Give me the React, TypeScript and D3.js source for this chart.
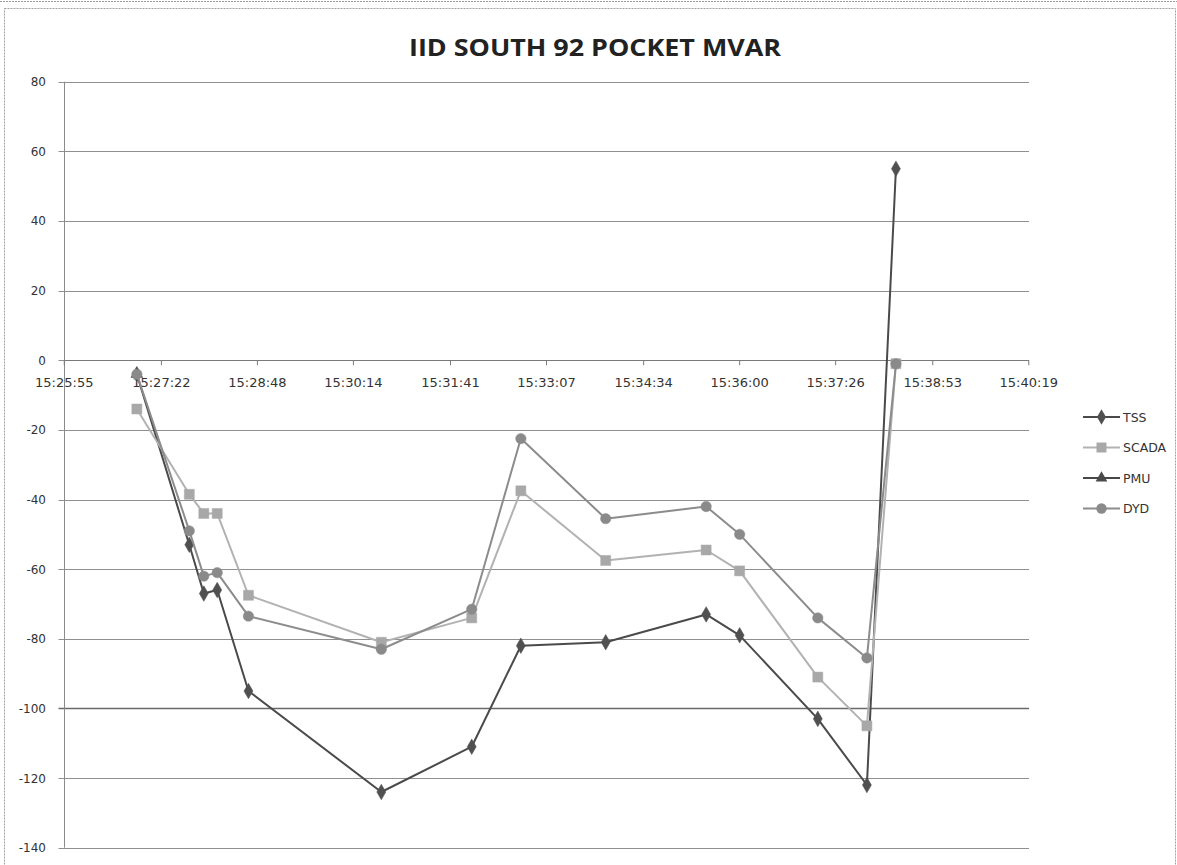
import React from "react";
import * as d3 from "d3";

const title = "IID SOUTH 92 POCKET MVAR";
const times = ["15:27:00","15:27:47","15:28:00","15:28:12","15:28:40","15:30:39","15:32:00","15:32:44","15:34:00","15:35:30","15:36:00","15:37:10","15:37:54","15:38:20"];
const tss = [-4, -53, -67, -66, -95, -124, -111, -82, -81, -73, -79, -103, -122, 55];
const scada = [-14, -38.5, -44, -44, -67.5, -81, -74, -37.5, -57.5, -54.5, -60.5, -91, -105, -1];
const pmuTimes = ["15:27:00"];
const pmu = [-4];
const dyd = [-4, -49, -62, -61, -73.5, -83, -71.5, -22.5, -45.5, -42, -50, -74, -85.5, -1];
const xTickLabels = ["15:25:55","15:27:22","15:28:48","15:30:14","15:31:41","15:33:07","15:34:34","15:36:00","15:37:26","15:38:53","15:40:19"];
const yTicks = [80, 60, 40, 20, 0, -20, -40, -60, -80, -100, -120, -140];
const seriesNames = ["TSS", "SCADA", "PMU", "DYD"];

const toSec = (s: string) => {
  const [h, m, sec] = s.split(":").map(Number);
  return h * 3600 + m * 60 + sec;
};

const W = 1177, H = 865;
const plot = { left: 64.5, right: 1029, top: 81.7, bottom: 847.7 };

const x = d3.scaleLinear().domain([0.643 * 86400, 0.653 * 86400]).range([plot.left, plot.right]);
const y = d3.scaleLinear().domain([-140, 80]).range([plot.bottom, plot.top]);

const styles: Record<string, { stroke: string; fill: string; marker: string }> = {
  TSS: { stroke: "#4a4a4a", fill: "#505050", marker: "diamond" },
  SCADA: { stroke: "#b2b2b2", fill: "#a8a8a8", marker: "square" },
  PMU: { stroke: "#474747", fill: "#4a4a4a", marker: "triangle" },
  DYD: { stroke: "#8c8c8c", fill: "#8a8a8a", marker: "circle" },
};

const symbolFor = (m: string) =>
  m === "diamond" ? d3.symbolDiamond : m === "square" ? d3.symbolSquare : m === "triangle" ? d3.symbolTriangle : d3.symbolCircle;

const markerPath = (m: string) => {
  const size = m === "square" ? 100 : m === "circle" ? 85 : m === "diamond" ? 70 : 60;
  return d3.symbol().type(symbolFor(m)).size(size)() as string;
};

export default function App() {
  const data: Record<string, { t: number; v: number }[]> = {
    TSS: times.map((t, i) => ({ t: toSec(t), v: tss[i] })),
    SCADA: times.map((t, i) => ({ t: toSec(t), v: scada[i] })),
    PMU: pmuTimes.map((t, i) => ({ t: toSec(t), v: pmu[i] })),
    DYD: times.map((t, i) => ({ t: toSec(t), v: dyd[i] })),
  };
  const line = d3
    .line<{ t: number; v: number }>()
    .x((d) => x(d.t))
    .y((d) => y(d.v));

  const labelFont = "'DejaVu Sans', Verdana, sans-serif";

  return (
    <svg width={W} height={H} style={{ position: "absolute", left: 0, top: 0, background: "#fff" }}>
      <rect x={0} y={0} width={W} height={H} fill="#fff" />
      <line x1={0} x2={W} y1={1.5} y2={1.5} stroke="#9a9a9a" strokeWidth={1} strokeDasharray="2,1" />
      <rect x={4.5} y={8.5} width={W - 6} height={H} fill="none" stroke="#a0a0a0" strokeWidth={1} strokeDasharray="2,1" />

      <text
        x={595}
        y={56}
        textAnchor="middle"
        fontFamily="'Open Sans', 'Liberation Sans', sans-serif"
        fontWeight="bold"
        fontSize={24}
        fill="#222"
        textLength={372}
        lengthAdjust="spacingAndGlyphs"
      >
        {title}
      </text>

      {/* gridlines */}
      {yTicks.map((v) => (
        <g key={v}>
          <line
            x1={plot.left - 6}
            x2={plot.right}
            y1={Math.round(y(v)) + 0.5}
            y2={Math.round(y(v)) + 0.5}
            stroke={v === -100 ? "#6a6a6a" : "#8f8f8f"}
            strokeWidth={v === -100 ? 1.5 : 1}
          />
          <text
            x={46}
            y={y(v) + 4.5}
            textAnchor="end"
            fontFamily={labelFont}
            fontSize={12}
            fill="#333"
          >
            {v}
          </text>
        </g>
      ))}

      {/* y axis */}
      <line x1={plot.left} x2={plot.left} y1={plot.top} y2={plot.bottom} stroke="#8a8a8a" strokeWidth={1} />

      {/* x axis at 0 */}
      <line x1={plot.left} x2={plot.right} y1={Math.round(y(0)) + 0.5} y2={Math.round(y(0)) + 0.5} stroke="#7a7a7a" strokeWidth={1} />
      {xTickLabels.map((lab) => {
        const px = x(toSec(lab));
        return (
          <g key={lab}>
            <line x1={px} x2={px} y1={y(0)} y2={y(0) + 5} stroke="#7a7a7a" strokeWidth={1} />
            <text x={px} y={387} textAnchor="middle" fontFamily={labelFont} fontSize={13} fill="#333">
              {lab}
            </text>
          </g>
        );
      })}

      {/* series */}
      {seriesNames.map((name) => {
        const st = styles[name];
        const pts = data[name];
        return (
          <g key={name}>
            {pts.length > 1 && (
              <path d={line(pts) as string} fill="none" stroke={st.stroke} strokeWidth={2} strokeLinejoin="round" />
            )}
            {pts.map((d, i) => (
              <path
                key={i}
                d={markerPath(st.marker)}
                transform={`translate(${x(d.t)},${y(d.v)})`}
                fill={st.fill}
                stroke={st.fill}
                strokeWidth={0.5}
              />
            ))}
          </g>
        );
      })}

      {/* legend */}
      {seriesNames.map((name, i) => {
        const st = styles[name];
        const ly = 417 + i * 30.5;
        return (
          <g key={name}>
            <line x1={1083} x2={1120} y1={ly} y2={ly} stroke={st.stroke} strokeWidth={2} />
            <path d={markerPath(st.marker)} transform={`translate(1101.5,${ly})`} fill={st.fill} />
            <text x={1123} y={ly + 4.5} fontFamily={labelFont} fontSize={12.5} fill="#333">
              {name}
            </text>
          </g>
        );
      })}
    </svg>
  );
}
